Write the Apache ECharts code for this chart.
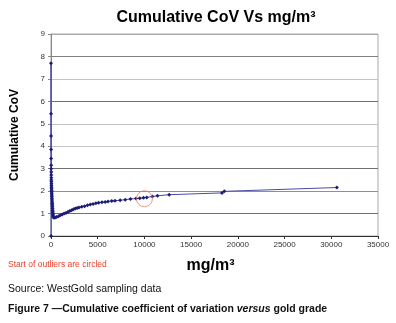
<!DOCTYPE html>
<html>
<head>
<meta charset="utf-8">
<script src="https://cdn.jsdelivr.net/npm/echarts@6/dist/echarts.min.js"></script>
<style>
  html, body { margin: 0; padding: 0; background: #fff; }
  #chart { width: 396px; height: 323px; }
</style>
</head>
<body>
<div id="chart"></div>
<script>
// grade (mg/m3) vs cumulative CoV
const grade = [
  0, 2, 5, 8, 12, 15, 18, 22, 25, 28, 32, 36, 40, 45, 50, 55, 60, 66, 72, 80,
  88, 95, 105, 115, 125, 135, 145, 155, 165, 175, 185, 195, 205, 220, 240, 270, 320,
  450, 600, 800, 1000, 1200, 1400, 1600, 1800, 2000, 2200, 2400, 2600, 2800, 3000,
  3300, 3600, 3900, 4200, 4500, 4800, 5100, 5450, 5800, 6100, 6500, 6850, 7400,
  7950, 8500, 9100, 9500, 9900, 10250, 10850, 11400, 12650, 18300, 18550, 30600
];
const cov = [
  0, 7.7, 5.45, 4.45, 3.85, 3.45, 3.15, 3.0, 2.85, 2.72, 2.6, 2.5, 2.42, 2.33, 2.25, 2.17, 2.1, 2.03, 1.97, 1.9,
  1.83, 1.76, 1.68, 1.6, 1.52, 1.45, 1.38, 1.3, 1.22, 1.15, 1.08, 1.02, 0.96, 0.9, 0.86, 0.83, 0.81,
  0.82, 0.85, 0.88, 0.92, 0.96, 1.0, 1.03, 1.07, 1.11, 1.15, 1.19, 1.22, 1.25, 1.27,
  1.3, 1.33, 1.37, 1.4, 1.43, 1.46, 1.48, 1.5, 1.52, 1.54, 1.56, 1.57, 1.59,
  1.62, 1.65, 1.67, 1.68, 1.7, 1.72, 1.76, 1.79, 1.84, 1.92, 1.99, 2.16
];
// where the outliers start (red circle)
const outlierStart = [[10000, 1.66]];

const chart = echarts.init(document.getElementById('chart'));

const points = grade.map((g, i) => [g, cov[i]]);

chart.setOption({
  animation: false,
  title: [
    {
      text: 'Cumulative CoV Vs mg/m³',
      left: 216, top: 10, textAlign: 'center', padding: 0,
      textStyle: { fontFamily: 'Liberation Sans', fontSize: 16, fontWeight: 'bold', color: '#000' }
    },
    {
      text: 'Start of outliers are circled',
      left: 8, top: 260, padding: 0,
      textStyle: { fontFamily: 'Liberation Sans', fontSize: 8.5, fontWeight: 'normal', color: '#e8402a' }
    },
    {
      text: 'Source: WestGold sampling data',
      left: 8, top: 284, padding: 0,
      textStyle: { fontFamily: 'Liberation Sans', fontSize: 10.5, fontWeight: 'normal', color: '#111' }
    },
    {
      text: '{b|Figure 7 —Cumulative coefficient of variation }{i|versus}{b| gold grade}',
      left: 8, top: 304, padding: 0,
      textStyle: {
        rich: {
          b: { fontFamily: 'Liberation Sans', fontSize: 10.5, fontWeight: 'bold', color: '#111' },
          i: { fontFamily: 'Liberation Sans', fontSize: 10.5, fontWeight: 'bold', fontStyle: 'italic', color: '#111' }
        }
      }
    }
  ],
  grid: {
    left: 51, right: 18, top: 34, bottom: 87,
    show: true, borderColor: '#aaa', borderWidth: 1
  },
  xAxis: {
    type: 'value',
    min: 0, max: 35000, interval: 5000,
    name: 'mg/m³',
    nameLocation: 'middle',
    nameGap: 22,
    nameTextStyle: { fontFamily: 'Liberation Sans', fontSize: 16, fontWeight: 'bold', color: '#000', padding: [0, 8, 0, 0] },
    axisLine: { lineStyle: { color: '#333', width: 1 } },
    axisTick: { show: true, length: 3, lineStyle: { color: '#333' } },
    axisLabel: { fontFamily: 'Liberation Sans', fontSize: 8, color: '#333', margin: 5, formatter: (v) => String(v) },
    splitLine: { show: false }
  },
  yAxis: {
    type: 'value',
    min: 0, max: 9, interval: 1,
    name: 'Cumulative CoV',
    nameLocation: 'middle',
    nameGap: 30,
    nameTextStyle: { fontFamily: 'Liberation Sans', fontSize: 12, fontWeight: 'bold', color: '#000' },
    axisLine: { show: true, lineStyle: { color: '#888', width: 1 } },
    axisTick: { show: true, length: 3, lineStyle: { color: '#888' } },
    axisLabel: { fontFamily: 'Liberation Sans', fontSize: 8, color: '#333', margin: 6 },
    splitLine: {
      show: true,
      lineStyle: {
        width: 1,
        color: ['#fff', '#707070', '#909090', '#707070', '#c4c4c4', '#c4c4c4', '#707070', '#c4c4c4', '#808080', '#aaa']
      }
    }
  },
  series: [
    {
      type: 'line',
      data: points,
      symbol: 'diamond',
      symbolSize: 4,
      showAllSymbol: true,
      lineStyle: { color: '#4a4aa8', width: 1 },
      itemStyle: { color: '#1c1c78' }
    },
    {
      type: 'scatter',
      data: outlierStart,
      symbol: 'circle',
      symbolSize: 16,
      itemStyle: { color: 'transparent', borderColor: '#ee7a66', borderWidth: 1 },
      z: 5
    }
  ]
});
</script>
</body>
</html>
